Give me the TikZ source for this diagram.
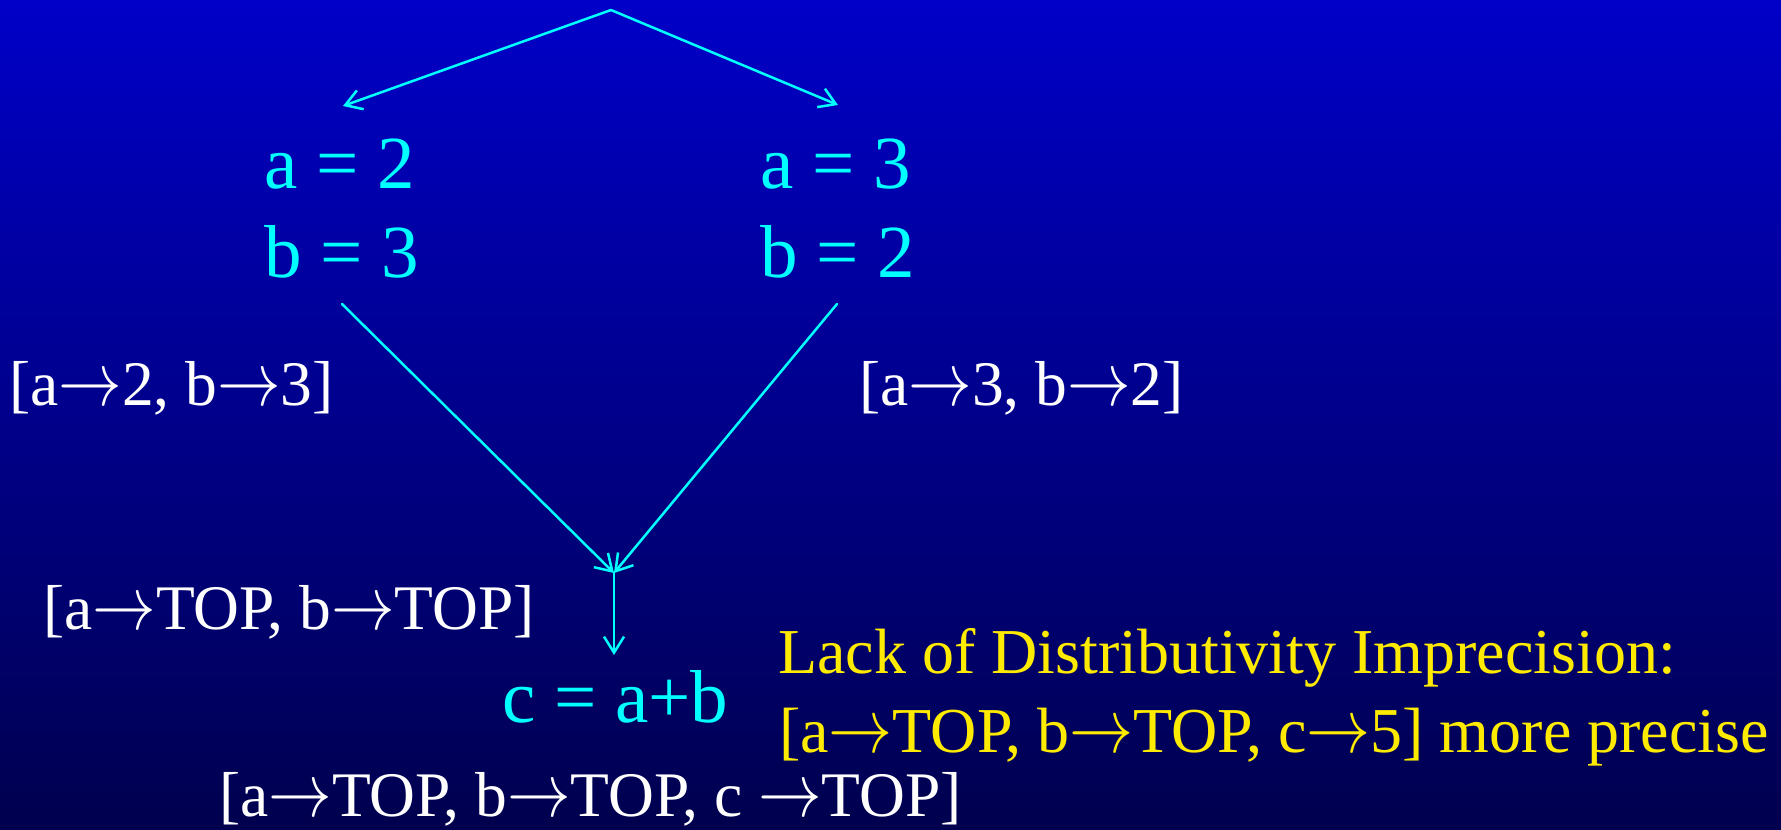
\RequirePackage{fix-cm}
\documentclass[tikz,border=0pt]{standalone}
\usepackage{graphicx}
\usepackage{fontspec}
\setmainfont{Liberation Serif}
\usetikzlibrary{arrows.meta}
\definecolor{bgtop}{RGB}{0,0,200}
\definecolor{bgbot}{RGB}{0,0,78}
\definecolor{cy}{RGB}{0,255,255}
\definecolor{yl}{RGB}{255,235,0}
\newcommand{\rarr}{\scalebox{1}[1.2]{$\rightarrow$}}
\begin{document}
\begin{tikzpicture}[x=1pt,y=-1pt,
  lbl/.style={inner sep=0pt, anchor=base west, text=white, font=\fontsize{63.5}{70}\selectfont},
  eqn/.style={inner sep=0pt, anchor=base west, text=cy, font=\fontsize{75}{80}\selectfont},
  note/.style={inner sep=0pt, anchor=base west, text=yl, font=\fontsize{64}{70}\selectfont},
  conn/.style={draw=cy, line width=2.5pt, line cap=round,
    -{Straight Barb[length=16pt,width=20pt,line width=2.5pt]}}
]
\shade[top color=bgtop, bottom color=bgbot] (0,0) rectangle (1781,830);
\useasboundingbox (0,0) rectangle (1781,830);

% equations
\node[eqn] (a2) at (264,188) {a = 2};
\node[eqn] (b3) at (264,277) {b = 3};
\node[eqn] (a3) at (760,188) {a = 3};
\node[eqn] (b2) at (760,277) {b = 2};
\node[eqn] (c) at (502,722) {c = a+b};

% labels
\node[lbl] (l1) at (9,405) {[a\rarr2, b\rarr3]};
\node[lbl] (l2) at (859,405) {[a\rarr3, b\rarr2]};
\node[lbl] (l3) at (43,629) {[a\rarr TOP, b\rarr TOP]};
\node[lbl] (l4) at (219,816) {[a\rarr TOP, b\rarr TOP, c \rarr TOP]};

% note
\node[note] (n1) at (778,673) {Lack of Distributivity Imprecision:};
\node[note] (n2) at (779,752) {[a\rarr TOP, b\rarr TOP, c\rarr5] more precise};

% connectors
\coordinate (apex) at (611,10);
\coordinate (tl) at (343,106);
\coordinate (tr) at (838,105);
\coordinate (sl) at (342,304);
\coordinate (sr) at (837,304);
\coordinate (m) at (614,573);
\coordinate (ve) at (614,655);
\draw[conn] (apex) -- (tl);
\draw[conn] (apex) -- (tr);
\draw[conn] (sl) -- (m);
\draw[conn] (sr) -- (m);
\draw[conn] (m) -- (ve);
\end{tikzpicture}
\end{document}
